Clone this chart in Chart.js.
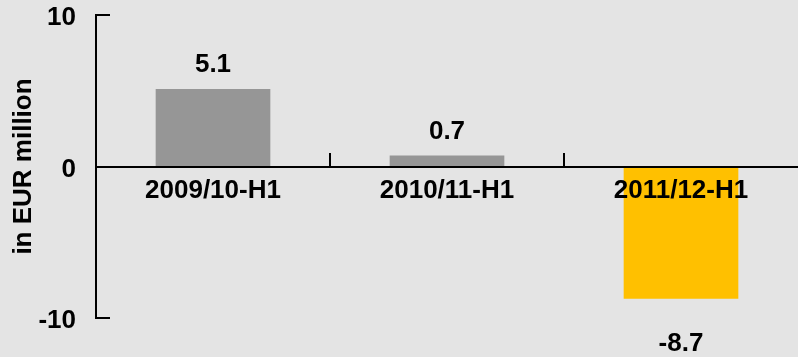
<!DOCTYPE html>
<html>
<head>
<meta charset="utf-8">
<script src="https://cdn.jsdelivr.net/npm/chart.js@4/dist/chart.umd.min.js"></script>
<style>
  html, body { margin: 0; padding: 0; background: #e4e4e4; overflow: hidden; }
  #wrap { width: 798px; height: 357px; }
</style>
</head>
<body>
<div id="wrap"><canvas id="c" width="798" height="357"></canvas></div>
<script>
// Half-year periods and their results
const periods = ['2009/10-H1', '2010/11-H1', '2011/12-H1'];
const resultValues = [5.1, 0.7, -8.7];
const barColors = ['#969696', '#969696', '#ffc000'];
const yTickValues = [-10, 0, 10];
const axisTitle = 'in EUR million';

const FONT = { family: '"Liberation Sans", Arial, sans-serif', size: 26, weight: 'bold' };

// Small inward ticks on the value axis and upward ticks between categories
const axisTicks = {
  id: 'axisTicks',
  afterDraw(chart) {
    const { ctx, scales: { x, y }, chartArea } = chart;
    ctx.save();
    ctx.strokeStyle = '#000';
    ctx.lineWidth = 2;
    ctx.beginPath();
    yTickValues.forEach(v => {
      const py = Math.round(y.getPixelForValue(v));
      ctx.moveTo(chartArea.left, py);
      ctx.lineTo(chartArea.left + 14, py);
    });
    const zero = Math.round(y.getPixelForValue(0));
    for (let i = 0; i < periods.length - 1; i++) {
      const px = Math.round((x.getPixelForTick(i) + x.getPixelForTick(i + 1)) / 2);
      ctx.moveTo(px, zero);
      ctx.lineTo(px, zero - 14);
    }
    ctx.stroke();
    ctx.restore();
  }
};

// Value labels above positive bars and below negative ones
const valueLabels = {
  id: 'valueLabels',
  afterDatasetsDraw(chart) {
    const { ctx } = chart;
    const meta = chart.getDatasetMeta(0);
    ctx.save();
    ctx.fillStyle = '#000';
    ctx.font = `${FONT.weight} ${FONT.size}px ${FONT.family}`;
    ctx.textAlign = 'center';
    ctx.textBaseline = 'alphabetic';
    meta.data.forEach((bar, i) => {
      const v = resultValues[i];
      const text = v.toFixed(1);
      if (v >= 0) {
        ctx.fillText(text, bar.x, bar.y - 17);
      } else {
        ctx.fillText(text, bar.x, bar.y + 53);
      }
    });
    ctx.restore();
  }
};

new Chart(document.getElementById('c'), {
  type: 'bar',
  data: {
    labels: periods,
    datasets: [{
      data: resultValues,
      backgroundColor: barColors,
      borderWidth: 0,
      barThickness: 114
    }]
  },
  options: {
    responsive: false,
    animation: false,
    layout: { padding: { top: 15, bottom: 39, left: 0, right: 0 } },
    plugins: {
      legend: { display: false },
      tooltip: { enabled: false }
    },
    scales: {
      x: {
        position: { y: 0 },
        offset: true,
        grid: { display: false, drawTicks: false },
        border: { display: true, color: '#000', width: 2, z: 1 },
        ticks: { color: '#000', font: FONT, padding: 9, maxRotation: 0, autoSkip: false, z: 1 }
      },
      y: {
        min: -10,
        max: 10,
        afterBuildTicks(scale) { scale.ticks = yTickValues.map(v => ({ value: v })); },
        ticks: { color: '#000', font: FONT, padding: 20, labelOffset: 3 },
        grid: { display: false, drawTicks: false },
        border: { display: true, color: '#000', width: 2 },
        title: { display: true, text: axisTitle, color: '#000', font: FONT, padding: { top: 8, bottom: 0 } },
        afterFit(scale) {
          scale.width = 96;
          scale.paddingTop = 0;
          scale.paddingBottom = 0;
        }
      }
    }
  },
  plugins: [axisTicks, valueLabels]
});
</script>
</body>
</html>
